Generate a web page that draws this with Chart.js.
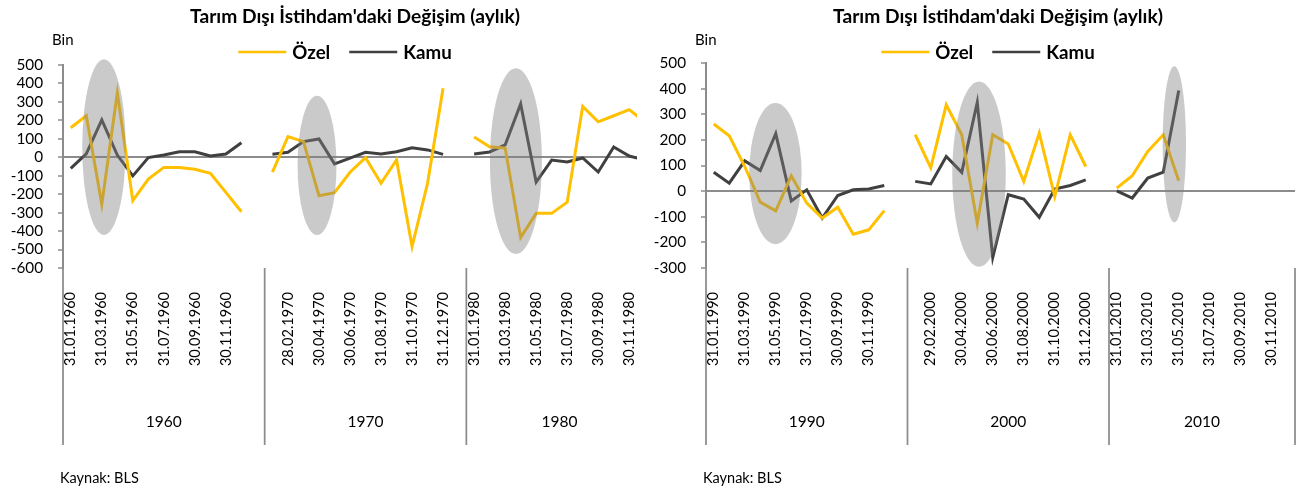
<!DOCTYPE html>
<html>
<head>
<meta charset="utf-8">
<script src="https://cdn.jsdelivr.net/npm/chart.js@4.4.1/dist/chart.umd.min.js"></script>
<style>
html,body{margin:0;padding:0;background:#fff;overflow:hidden;width:1302px;height:490px;position:relative}
.panel{position:absolute;top:0;width:700px;height:490px}
#p1{left:0}
#p2{left:650px}
</style>
</head>
<body>
<div class="panel" id="p1"><canvas id="c1" width="700" height="490"></canvas></div>
<div class="panel" id="p2"><canvas id="c2" width="700" height="490"></canvas></div>
<script>
// ---------------- DATA ----------------
const titleText = "Tarım Dışı İstihdam'daki Değişim (aylık)";
const seriesNames = ['Özel', 'Kamu'];
const unitLabel = 'Bin';
const sourceText = 'Kaynak: BLS';

// left chart categories (month-end dates, '' = gap between year groups)
const datesLeft = [
  '31.01.1960','29.02.1960','31.03.1960','30.04.1960','31.05.1960','30.06.1960','31.07.1960','31.08.1960','30.09.1960','31.10.1960','30.11.1960','31.12.1960','',
  '31.01.1970','28.02.1970','31.03.1970','30.04.1970','31.05.1970','30.06.1970','31.07.1970','31.08.1970','30.09.1970','31.10.1970','30.11.1970','31.12.1970','',
  '31.01.1980','29.02.1980','31.03.1980','30.04.1980','31.05.1980','30.06.1980','31.07.1980','31.08.1980','30.09.1980','31.10.1980','30.11.1980','31.12.1980'
];
const groupsLeft = ['1960', '1970', '1980'];
const ozelLeft = [160,225,-255,350,-235,-118,-55,-55,-65,-87,-190,-295,null,
  -80,112,85,-208,-192,-81,-2,-141,-15,-484,-141,374,null,
  110,57,50,-435,-304,-304,-243,276,192,225,258,192];
const kamuLeft = [-60,18,202,12,-101,-2,12,30,30,7,18,79,null,
  16,27,85,99,-36,-5,27,18,30,52,40,16,null,
  18,29,67,289,-134,-15,-25,-4,-80,56,7,-15];

// right chart categories
const datesRight = [
  '31.01.1990','28.02.1990','31.03.1990','30.04.1990','31.05.1990','30.06.1990','31.07.1990','31.08.1990','30.09.1990','31.10.1990','30.11.1990','31.12.1990','',
  '31.01.2000','29.02.2000','31.03.2000','30.04.2000','31.05.2000','30.06.2000','31.07.2000','31.08.2000','30.09.2000','31.10.2000','30.11.2000','31.12.2000','',
  '31.01.2010','28.02.2010','31.03.2010','30.04.2010','31.05.2010','30.06.2010','31.07.2010','31.08.2010','30.09.2010','31.10.2010','30.11.2010','31.12.2010'
];
const groupsRight = ['1990', '2000', '2010'];
const ozelRight = [262,216,96,-43,-77,60,-47,-105,-63,-168,-151,-76,null,
  220,91,337,220,-125,220,184,38,227,-21,220,96,null,
  12,60,155,220,40];
const kamuRight = [74,31,118,80,224,-38,5,-105,-17,5,8,22,null,
  38,28,135,73,346,-259,-14,-31,-102,8,22,44,null,
  1,-27,51,74,393];

// highlighted periods (category index range, value range)
const highlightsLeft = [
  {x0: 0.74, x1: 3.54, y0: -421, y1: 531},
  {x0: 14.62, x1: 17.13, y0: -421, y1: 334},
  {x0: 27.02, x1: 30.37, y0: -524, y1: 482}
];
const highlightsRight = [
  {x0: 2.29, x1: 5.67, y0: -207, y1: 344},
  {x0: 15.39, x1: 18.84, y0: -295, y1: 428},
  {x0: 28.96, x1: 30.47, y0: -122, y1: 487}
];

const yLeft = {min: -600, max: 500, step: 100};
const yRight = {min: -300, max: 500, step: 100};

// ---------------- STYLE ----------------
const FONT = "Lato, 'Open Sans', sans-serif";
const COLORS = ['#FFC000', '#404040'];
const AXIS = '#8c8c8c';

Chart.defaults.font.family = FONT;
Chart.defaults.color = '#000';

// year groups of the multi-level category axis: each group owns its trailing blank slot
function groupRanges(dates, names) {
  const starts = [];
  dates.forEach((d, i) => { if (d !== '' && (i === 0 || dates[i - 1] === '')) starts.push(i); });
  return starts.map((s, k) => ({
    label: names[k],
    a: s - 0.5,
    b: k < starts.length - 1 ? starts[k + 1] - 0.5 : dates.length - 0.5
  }));
}

function fitFont(ctx, text, weight, targetW) {
  ctx.font = weight + ' 20px ' + FONT;
  return 20 * targetW / ctx.measureText(text).width;
}

const decor = {
  id: 'decor',
  afterDatasetsDraw(chart, args, o) {
    const {ctx, scales: {x, y}} = chart;
    ctx.save();
    ctx.fillStyle = 'rgba(128,128,128,0.42)';
    o.highlights.forEach(h => {
      const x0 = x.getPixelForValue(h.x0), x1 = x.getPixelForValue(h.x1);
      const y0 = y.getPixelForValue(h.y0), y1 = y.getPixelForValue(h.y1);
      ctx.beginPath();
      ctx.ellipse((x0 + x1) / 2, (y0 + y1) / 2, Math.abs(x1 - x0) / 2, Math.abs(y1 - y0) / 2, 0, 0, Math.PI * 2);
      ctx.fill();
    });
    ctx.restore();
  },
  afterDraw(chart, args, o) {
    const {ctx, chartArea: ca, scales: {x}} = chart;
    ctx.save();
    // group separators & labels
    ctx.strokeStyle = AXIS;
    ctx.lineWidth = 1.75;
    const bounds = o.groups.map(g => g.a);
    bounds.push(o.groups[o.groups.length - 1].b);
    bounds.forEach(b => {
      const px = x.getPixelForValue(b);
      if (px < ca.left - 1 || px > ca.right + 1) return;
      ctx.beginPath();
      ctx.moveTo(px, ca.bottom);
      ctx.lineTo(px, o.sepBottom);
      ctx.stroke();
    });
    ctx.fillStyle = '#000';
    ctx.font = '15.5px ' + FONT;
    ctx.textAlign = 'center';
    ctx.textBaseline = 'middle';
    o.groups.forEach(g => {
      const cx = (x.getPixelForValue(g.a) + x.getPixelForValue(g.b)) / 2;
      ctx.fillText(g.label, cx, o.groupY);
    });
    // title
    const ts = fitFont(ctx, titleText, 'bold', 330);
    ctx.font = 'bold ' + ts + 'px ' + FONT;
    ctx.fillText(titleText, o.titleX, o.titleY);
    // legend
    const ls = fitFont(ctx, seriesNames[1], 'bold', 48.5);
    ctx.font = 'bold ' + ls + 'px ' + FONT;
    const lineLen = 48, gapT = 6, gapI = 19;
    const items = chart.data.datasets.map(d => ({label: d.label, color: d.borderColor, w: ctx.measureText(d.label).width}));
    let total = 0;
    items.forEach((it, i) => { total += lineLen + gapT + it.w + (i ? gapI : 0); });
    let cx = o.legendX - total / 2;
    ctx.textAlign = 'left';
    items.forEach((it, i) => {
      if (i) cx += gapI;
      ctx.strokeStyle = it.color;
      ctx.lineWidth = 2.5;
      ctx.beginPath();
      ctx.moveTo(cx, o.legendY);
      ctx.lineTo(cx + lineLen, o.legendY);
      ctx.stroke();
      cx += lineLen + gapT;
      ctx.fillText(it.label, cx, o.legendY + 1);
      cx += it.w;
    });
    // unit & source
    ctx.font = '15px ' + FONT;
    ctx.fillText(unitLabel, o.unitX, o.unitY);
    ctx.font = '14.5px ' + FONT;
    ctx.fillText(sourceText, o.srcX, o.srcY);
    ctx.restore();
  }
};

function makeChart(canvasId, dates, groups, ozel, kamu, highlights, yr, pos) {
  const xMax = pos.xMax;
  return new Chart(document.getElementById(canvasId), {
    type: 'line',
    data: {
      datasets: [
        {label: seriesNames[0], data: ozel.map((v, i) => ({x: i, y: v})), borderColor: COLORS[0], backgroundColor: COLORS[0]},
        {label: seriesNames[1], data: kamu.map((v, i) => ({x: i, y: v})), borderColor: COLORS[1], backgroundColor: COLORS[1]}
      ]
    },
    options: {
      responsive: false,
      animation: false,
      events: [],
      layout: {padding: {top: pos.top, left: 0, right: pos.padRight, bottom: 0}},
      elements: {
        line: {borderWidth: 3, tension: 0, borderCapStyle: 'butt', borderJoinStyle: 'miter'},
        point: {radius: 0}
      },
      datasets: {line: {spanGaps: false, clip: {left: 5, top: 5, right: 0, bottom: 5}}},
      plugins: {
        legend: {display: false},
        title: {display: false},
        tooltip: {enabled: false},
        decor: {
          highlights, groups: groupRanges(dates, groups),
          sepBottom: 445, groupY: 422,
          titleX: pos.titleX, titleY: 17, legendX: pos.legendX, legendY: 52,
          unitX: pos.unitX, unitY: 40, srcX: pos.srcX, srcY: 478
        }
      },
      scales: {
        x: {
          type: 'linear', min: -0.5, max: xMax,
          afterBuildTicks: s => { s.ticks = dates.map((d, i) => i).filter(i => i % 2 === 0 && i <= xMax).map(v => ({value: v})); },
          afterFit: s => { s.height = 490 - 268; },
          grid: {display: false, drawTicks: false},
          border: {display: false},
          ticks: {
            autoSkip: false, minRotation: 90, maxRotation: 90, padding: 24,
            font: {size: 14.5}, color: '#000',
            callback: v => dates[v] || ''
          }
        },
        y: {
          min: yr.min, max: yr.max,
          afterFit: s => { s.width = pos.yWidth; },
          ticks: {stepSize: yr.step, autoSkip: false, padding: 15, font: {size: 15.3}, color: '#000'},
          border: {display: true, color: AXIS, width: 2},
          grid: {
            drawOnChartArea: true, drawTicks: true, tickLength: 5,
            color: c => (c.tick && c.tick.value === 0) ? AXIS : 'rgba(0,0,0,0)',
            tickColor: AXIS, lineWidth: 2, tickWidth: 1.5
          }
        }
      }
    },
    plugins: [decor]
  });
}

makeChart('c1', datesLeft, groupsLeft, ozelLeft, kamuLeft, highlightsLeft, yLeft,
  {top: 65, padRight: 63, yWidth: 63, xMax: 36.5, titleX: 355, legendX: 345, unitX: 52, srcX: 60});
makeChart('c2', datesRight, groupsRight, ozelRight, kamuRight, highlightsRight, yRight,
  {top: 63, padRight: 55, yWidth: 56, xMax: 37.5, titleX: 348, legendX: 338, unitX: 45, srcX: 53});
</script>
</body>
</html>
